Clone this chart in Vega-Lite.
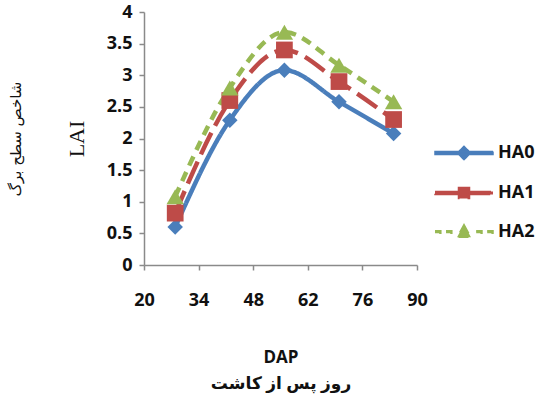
{
  "$schema": "https://vega.github.io/schema/vega-lite/v6.json",
  "width": 273,
  "height": 253,
  "padding": {"left": 8, "top": 3, "right": 2, "bottom": 5},
  "background": "white",
  "config": {
    "view": {"stroke": null},
    "axis": {
      "domainColor": "#8a8a8a",
      "tickColor": "#8a8a8a",
      "domainWidth": 1.5,
      "tickWidth": 1.5,
      "grid": false,
      "labelFont": "Open Sans",
      "labelFontWeight": "bold",
      "labelFontSize": 18,
      "labelColor": "#111111",
      "titleColor": "#111111",
      "labelFlush": false
    }
  },
  "data": {
    "values": [
      {"dap": 28, "lai": 0.6, "series": "HA0"},
      {"dap": 42, "lai": 2.29, "series": "HA0"},
      {"dap": 56, "lai": 3.08, "series": "HA0"},
      {"dap": 70, "lai": 2.58, "series": "HA0"},
      {"dap": 84, "lai": 2.08, "series": "HA0"},
      {"dap": 28, "lai": 0.82, "series": "HA1"},
      {"dap": 42, "lai": 2.6, "series": "HA1"},
      {"dap": 56, "lai": 3.4, "series": "HA1"},
      {"dap": 70, "lai": 2.9, "series": "HA1"},
      {"dap": 84, "lai": 2.3, "series": "HA1"},
      {"dap": 28, "lai": 1.08, "series": "HA2"},
      {"dap": 42, "lai": 2.8, "series": "HA2"},
      {"dap": 56, "lai": 3.68, "series": "HA2"},
      {"dap": 70, "lai": 3.16, "series": "HA2"},
      {"dap": 84, "lai": 2.58, "series": "HA2"}
    ]
  },
  "encoding": {
    "x": {
      "field": "dap",
      "type": "quantitative",
      "scale": {"domain": [20, 90], "nice": false, "zero": false},
      "axis": {
        "values": [20, 34, 48, 62, 76, 90],
        "tickSize": 5,
        "labelPadding": 21,
        "labelFlush": false,
        "title": ["DAP", "روز پس از کاشت"],
        "titleFont": "Open Sans, DejaVu Sans",
        "titleFontWeight": "bold",
        "titleFontSize": 17,
        "titleLineHeight": 26,
        "titlePadding": 40
      }
    },
    "y": {
      "field": "lai",
      "type": "quantitative",
      "scale": {"domain": [0, 4], "nice": false},
      "axis": {
        "values": [0, 0.5, 1, 1.5, 2, 2.5, 3, 3.5, 4],
        "labelExpr": "datum.value + ''",
        "tickSize": 5,
        "labelPadding": 7,
        "title": "LAI",
        "titleFont": "Liberation Serif",
        "titleFontWeight": "normal",
        "titleFontSize": 22,
        "titlePadding": 18
      }
    },
    "color": {
      "field": "series",
      "type": "nominal",
      "scale": {"domain": ["HA0", "HA1", "HA2"], "range": ["#4A7EBB", "#BE4B48", "#98B954"]},
      "legend": {
        "title": null,
        "orient": "none",
        "legendX": 290,
        "legendY": 111,
        "symbolSize": 3364,
        "labelFont": "Open Sans",
        "labelFontWeight": "bold",
        "labelFontSize": 18,
        "labelColor": "#111111",
        "labelOffset": 4,
        "rowPadding": -18,
        "encode": {
          "symbols": {
            "update": {
              "shape": {"signal": "datum.value === 'HA0' ? 'M-1,-0.055H1V0.055H-1Z M0,-0.23L0.23,0L0,0.23L-0.23,0Z' : datum.value === 'HA1' ? 'M-1,-0.055H1V0.055H-1Z M-0.19,-0.19H0.19V0.19H-0.19Z' : 'M-1,-0.045H-0.8V0.045H-1Z M-0.62,-0.045H-0.42V0.045H-0.62Z M0.42,-0.045H0.62V0.045H0.42Z M0.8,-0.045H1V0.045H0.8Z M0,-0.26L0.24,0.18H-0.24Z'"},
              "fill": {"signal": "scale('color', datum.value)"},
              "stroke": {"value": "transparent"},
              "strokeDash": {"value": []},
              "opacity": {"value": 1}
            }
          }
        }
      }
    }
  },
  "layer": [
    {
      "mark": {"type": "line", "interpolate": "monotone", "strokeWidth": 4.5},
      "encoding": {
        "strokeDash": {
          "field": "series",
          "type": "nominal",
          "scale": {"domain": ["HA0", "HA1", "HA2"], "range": [[1, 0], [24, 8], [10, 7]]},
          "legend": null
        }
      }
    },
    {
      "transform": [{"filter": "datum.series === 'HA0'"}],
      "mark": {"type": "point", "filled": true, "opacity": 1, "size": 240, "shape": "diamond"},
      "encoding": {
        "y": {
          "field": "lai",
          "type": "quantitative",
          "scale": {"domain": [0, 4], "nice": false},
          "axis": {
            "orient": "left",
            "domain": false,
            "ticks": false,
            "labels": false,
            "title": "شاخص سطح برگ",
            "titleFont": "DejaVu Sans",
            "titleFontWeight": "normal",
            "titleFontSize": 15,
            "titlePadding": 121
          }
        }
      }
    },
    {
      "transform": [{"filter": "datum.series === 'HA1'"}],
      "mark": {"type": "point", "filled": true, "opacity": 1, "size": 280, "shape": "square"},
      "encoding": {
        "y": {"field": "lai", "type": "quantitative", "scale": {"domain": [0, 4], "nice": false}, "axis": null}
      }
    },
    {
      "transform": [{"filter": "datum.series === 'HA2'"}],
      "mark": {"type": "point", "filled": true, "opacity": 1, "size": 300, "shape": "triangle-up"},
      "encoding": {
        "y": {"field": "lai", "type": "quantitative", "scale": {"domain": [0, 4], "nice": false}, "axis": null}
      }
    }
  ],
  "resolve": {"axis": {"y": "independent"}}
}
